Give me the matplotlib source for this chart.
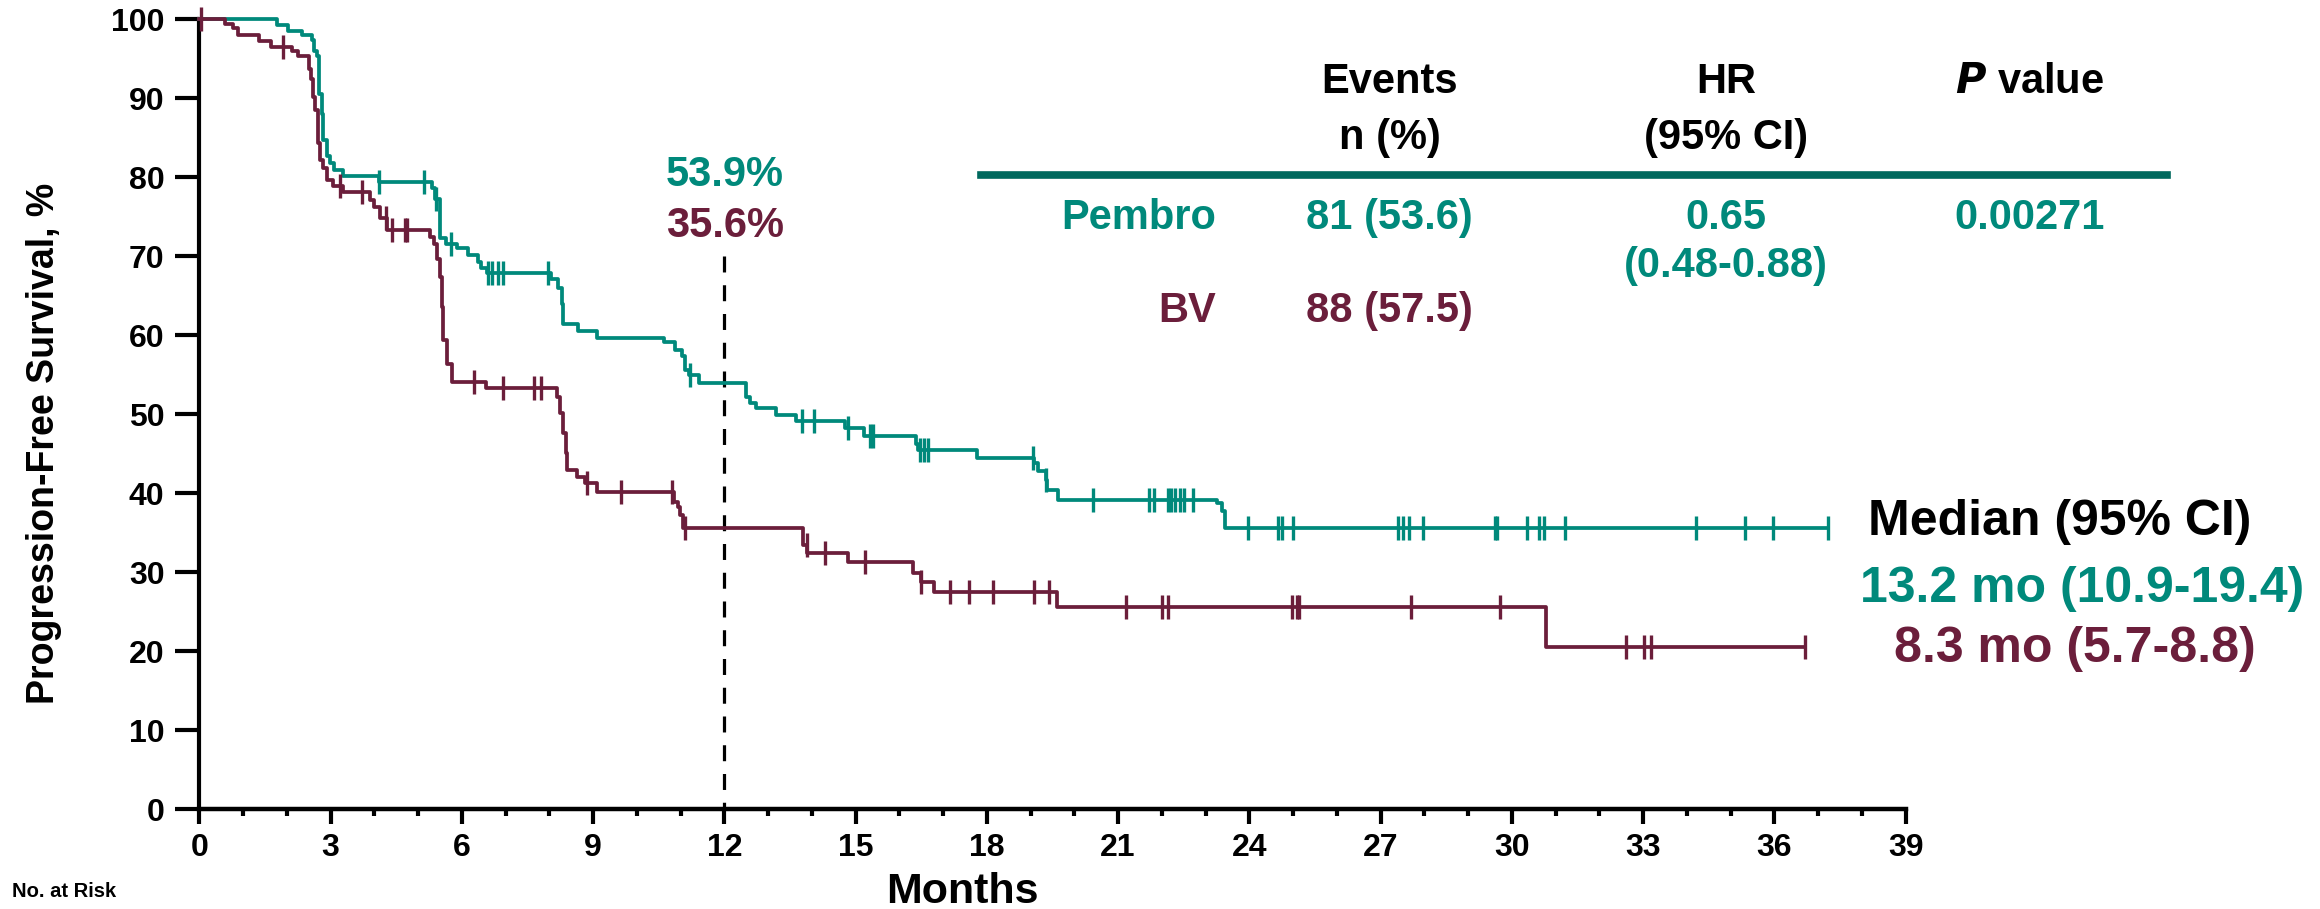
import numpy as np
import matplotlib
matplotlib.use("Agg")
import matplotlib.pyplot as plt
from matplotlib.ticker import MultipleLocator

plt.rcParams["font.family"] = ["Liberation Sans", "DejaVu Sans"]
plt.rcParams["font.weight"] = "bold"

TEAL, MAROON, RULE = "#00897B", "#6B1E3B", "#00695E"

# step curves: time of each drop (months) and the survival level after it (%)
pembro_t = [0, 1.78, 2.03, 2.34, 2.57, 2.62, 2.68, 2.74, 2.80, 2.83, 2.91, 2.99, 3.08,
            3.29, 4.11, 5.31, 5.39, 5.50, 5.65, 5.88, 6.15, 6.38, 6.45, 6.57, 8.05,
            8.20, 8.28, 8.32, 8.66, 9.08, 10.62, 10.88, 11.04, 11.10, 11.20, 11.41,
            12.50, 12.59, 12.72, 13.18, 13.64, 14.75, 15.19, 16.38, 16.42, 17.78,
            19.08, 19.18, 19.35, 19.38, 19.63, 23.27, 23.37, 23.44]
pembro_s = [100, 99.3, 98.5, 98.0, 97.4, 96.0, 95.3, 90.6, 88.0, 84.7, 82.7, 81.8, 80.9,
            80.2, 79.4, 78.6, 77.3, 72.3, 71.6, 71.0, 70.1, 69.3, 68.5, 67.9, 67.1,
            66.0, 64.0, 61.4, 60.6, 59.7, 59.1, 58.1, 57.4, 55.6, 55.0, 54.0,
            52.2, 51.4, 50.8, 49.9, 49.1, 48.2, 47.3, 46.3, 45.5, 44.5,
            43.8, 42.8, 41.7, 40.4, 39.2, 38.8, 37.7, 35.6]
pembro_end = 37.23
pembro_cens = [4.11, 5.14, 5.42, 5.75, 6.61, 6.69, 6.83, 6.95, 7.98, 11.22, 13.78, 14.06,
               14.82, 15.33, 15.39, 16.47, 16.56, 16.66, 19.06, 19.35, 20.42, 21.71,
               21.81, 22.15, 22.20, 22.30, 22.42, 22.51, 22.72, 23.98, 24.66, 24.74,
               24.99, 27.39, 27.52, 27.64, 27.98, 29.61, 29.67, 30.35, 30.63, 30.73,
               31.21, 34.21, 35.33, 35.96, 37.23]

bv_t = [0, 0.59, 0.78, 0.89, 1.37, 1.65, 2.11, 2.26, 2.51, 2.55, 2.59, 2.64, 2.72, 2.76,
        2.82, 2.91, 3.06, 3.29, 3.90, 4.00, 4.13, 4.28, 5.27, 5.36, 5.44, 5.50, 5.54,
        5.58, 5.67, 5.77, 6.55, 8.17, 8.24, 8.32, 8.38, 8.40, 8.63, 8.82, 9.10, 10.85,
        10.93, 10.99, 11.06, 13.79, 13.90, 14.82, 16.32, 16.49, 16.80, 19.60, 30.78]
bv_s = [100, 99.4, 98.9, 98.0, 97.2, 96.5, 96.0, 95.3, 93.7, 92.4, 90.2, 88.5, 84.3, 82.2,
        81.2, 79.7, 78.9, 78.1, 77.1, 76.3, 74.8, 73.3, 72.5, 71.6, 69.7, 67.4, 63.6,
        59.4, 56.4, 54.1, 53.3, 52.2, 50.1, 47.6, 45.1, 42.9, 42.1, 41.3, 40.1, 38.9,
        38.2, 37.3, 35.6, 33.4, 32.5, 31.3, 29.9, 28.8, 27.5, 25.6, 20.5]
bv_end = 36.70
bv_cens = [0.03, 1.91, 3.22, 3.73, 4.27, 4.40, 4.70, 4.75, 6.28, 6.95, 7.66, 7.80, 8.87,
           9.63, 10.81, 11.10, 13.88, 14.30, 15.22, 16.49, 17.16, 17.59, 18.13, 19.08,
           19.41, 21.18, 22.00, 22.13, 24.97, 25.08, 25.14, 27.69, 29.73, 32.60, 33.02,
           33.17, 36.70]

landmark = 12
landmark_labels = ["53.9%", "35.6%"]

fig = plt.figure(figsize=(23.2, 9.09), dpi=100)
ax = fig.add_axes([0.0859, 0.1097, 0.7355, 0.8691])


def km(ax, t, s, end, cens, color):
    xs = list(t) + [end]
    ys = list(s) + [s[-1]]
    ax.step(xs, ys, where="post", color=color, lw=2.7, zorder=3, clip_on=False)
    idx = np.searchsorted(t, cens, side="right") - 1
    ax.plot(cens, np.asarray(s)[idx], ls="none", marker="|", ms=17, mew=2.4,
            color=color, zorder=4, clip_on=False)


km(ax, pembro_t, pembro_s, pembro_end, pembro_cens, TEAL)
km(ax, bv_t, bv_s, bv_end, bv_cens, MAROON)
ax.plot([landmark, landmark], [70, 0], color="black", lw=2.3, ls=(0, (5, 4)), zorder=2)

ax.set_xlim(0, 39)
ax.set_ylim(0, 100)
ax.xaxis.set_major_locator(MultipleLocator(3))
ax.xaxis.set_minor_locator(MultipleLocator(1))
ax.yaxis.set_major_locator(MultipleLocator(10))
for side in ("top", "right"):
    ax.spines[side].set_visible(False)
ax.spines["left"].set_linewidth(3)
ax.spines["bottom"].set_linewidth(3.2)
ax.tick_params(axis="y", length=17, width=3, pad=8, labelsize=23)
ax.tick_params(axis="x", which="major", length=11, width=3, pad=6, labelsize=23)
ax.tick_params(axis="x", which="minor", length=5, width=3)
for lab in ax.get_xticklabels() + ax.get_yticklabels():
    lab.set_fontweight("bold")

fig.text(0.019, 0.512, "Progression-Free Survival, %", rotation=90, ha="center",
         va="center", fontsize=27)
fig.text(0.4147, 0.019, "Months", ha="center", va="center", fontsize=31)
fig.text(0.005, 0.019, "No. at Risk", ha="left", va="center", fontsize=14.5)

fig.text(0.3125, 0.8075, landmark_labels[0], ha="center", va="center", fontsize=30, color=TEAL)
fig.text(0.3125, 0.7514, landmark_labels[1], ha="center", va="center", fontsize=30, color=MAROON)

# summary table
fs = 30
c1, c2, c3 = 0.599, 0.744, 0.875
fig.text(c1, 0.910, "Events", ha="center", va="center", fontsize=fs)
fig.text(c1, 0.848, "n (%)", ha="center", va="center", fontsize=fs)
fig.text(c2, 0.910, "HR", ha="center", va="center", fontsize=fs)
fig.text(c2, 0.848, "(95% CI)", ha="center", va="center", fontsize=fs)
fig.text(c3, 0.910, r"$\boldsymbol{P}$ value", ha="center", va="center", fontsize=fs)
fig.add_artist(plt.Line2D([0.423, 0.934], [0.8077, 0.8077], color=RULE, lw=5.5))
fig.text(0.524, 0.7607, "Pembro", ha="right", va="center", fontsize=fs, color=TEAL)
fig.text(c1, 0.7607, "81 (53.6)", ha="center", va="center", fontsize=fs, color=TEAL)
fig.text(c2, 0.7607, "0.65", ha="center", va="center", fontsize=fs, color=TEAL)
fig.text(c2, 0.7074, "(0.48-0.88)", ha="center", va="center", fontsize=fs, color=TEAL)
fig.text(c3, 0.7607, "0.00271", ha="center", va="center", fontsize=fs, color=TEAL)
fig.text(0.524, 0.658, "BV", ha="right", va="center", fontsize=fs, color=MAROON)
fig.text(c1, 0.658, "88 (57.5)", ha="center", va="center", fontsize=fs, color=MAROON)

# medians
fig.text(0.805, 0.4257, "Median (95% CI)", ha="left", va="center", fontsize=36, color="black")
fig.text(0.8017, 0.352, "13.2 mo (10.9-19.4)", ha="left", va="center", fontsize=36, color=TEAL)
fig.text(0.8164, 0.2865, "8.3 mo (5.7-8.8)", ha="left", va="center", fontsize=36, color=MAROON)

fig.savefig("out.png", dpi=100, facecolor="white")
